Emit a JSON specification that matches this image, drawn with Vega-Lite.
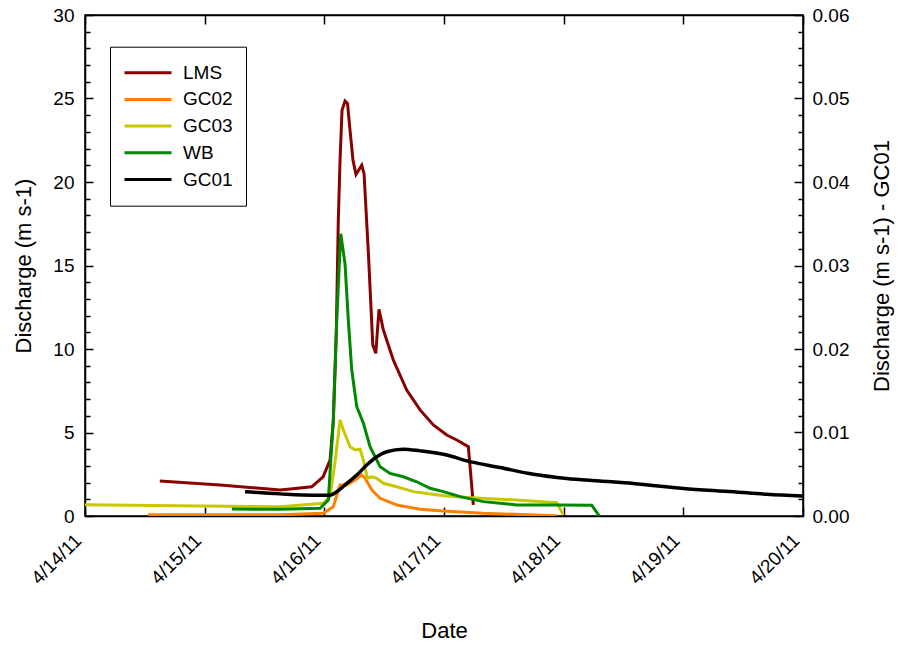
{
  "$schema": "https://vega.github.io/schema/vega-lite/v6.json",
  "width": 718,
  "height": 501,
  "autosize": "none",
  "padding": {"left": 85, "top": 15, "right": 95, "bottom": 129},
  "config": {
    "font": "Liberation Sans",
    "view": {"stroke": "black", "strokeWidth": 1.5},
    "axis": {
      "grid": false,
      "domainColor": "black",
      "domainWidth": 1.5,
      "tickColor": "black",
      "tickWidth": 1.5,
      "labelColor": "black",
      "labelFontSize": 19,
      "titleColor": "black",
      "titleFontSize": 22,
      "titleFontWeight": "normal"
    }
  },
  "datasets": {
    "flow": [
      {"s": "LMS", "t": "2011-04-14T15:00", "q": 2.1},
      {"s": "LMS", "t": "2011-04-15T03:05", "q": 1.85},
      {"s": "LMS", "t": "2011-04-15T15:07", "q": 1.56},
      {"s": "LMS", "t": "2011-04-15T18:08", "q": 1.65},
      {"s": "LMS", "t": "2011-04-15T21:28", "q": 1.75},
      {"s": "LMS", "t": "2011-04-15T23:45", "q": 2.35},
      {"s": "LMS", "t": "2011-04-16T01:09", "q": 3.35},
      {"s": "LMS", "t": "2011-04-16T01:48", "q": 5.7},
      {"s": "LMS", "t": "2011-04-16T02:24", "q": 11.0},
      {"s": "LMS", "t": "2011-04-16T02:48", "q": 17.7},
      {"s": "LMS", "t": "2011-04-16T03:09", "q": 21.3},
      {"s": "LMS", "t": "2011-04-16T03:33", "q": 24.3},
      {"s": "LMS", "t": "2011-04-16T04:09", "q": 24.85},
      {"s": "LMS", "t": "2011-04-16T04:39", "q": 24.7},
      {"s": "LMS", "t": "2011-04-16T05:09", "q": 23.1},
      {"s": "LMS", "t": "2011-04-16T05:45", "q": 21.3},
      {"s": "LMS", "t": "2011-04-16T06:21", "q": 20.45},
      {"s": "LMS", "t": "2011-04-16T07:30", "q": 21.0},
      {"s": "LMS", "t": "2011-04-16T07:58", "q": 20.5},
      {"s": "LMS", "t": "2011-04-16T08:50", "q": 15.75},
      {"s": "LMS", "t": "2011-04-16T09:19", "q": 12.75},
      {"s": "LMS", "t": "2011-04-16T09:43", "q": 10.24},
      {"s": "LMS", "t": "2011-04-16T10:19", "q": 9.74},
      {"s": "LMS", "t": "2011-04-16T10:58", "q": 12.38},
      {"s": "LMS", "t": "2011-04-16T11:50", "q": 11.14},
      {"s": "LMS", "t": "2011-04-16T13:50", "q": 9.34},
      {"s": "LMS", "t": "2011-04-16T16:31", "q": 7.54},
      {"s": "LMS", "t": "2011-04-16T19:12", "q": 6.35},
      {"s": "LMS", "t": "2011-04-16T21:52", "q": 5.45},
      {"s": "LMS", "t": "2011-04-17T00:33", "q": 4.85},
      {"s": "LMS", "t": "2011-04-17T02:34", "q": 4.55},
      {"s": "LMS", "t": "2011-04-17T04:53", "q": 4.15},
      {"s": "LMS", "t": "2011-04-17T05:53", "q": 0.66},
      {"s": "GC02", "t": "2011-04-14T12:38", "q": 0.08},
      {"s": "GC02", "t": "2011-04-15T15:07", "q": 0.07},
      {"s": "GC02", "t": "2011-04-15T23:48", "q": 0.16},
      {"s": "GC02", "t": "2011-04-16T01:48", "q": 0.56},
      {"s": "GC02", "t": "2011-04-16T03:09", "q": 1.86},
      {"s": "GC02", "t": "2011-04-16T04:30", "q": 1.86},
      {"s": "GC02", "t": "2011-04-16T06:10", "q": 2.16},
      {"s": "GC02", "t": "2011-04-16T07:30", "q": 2.46},
      {"s": "GC02", "t": "2011-04-16T08:10", "q": 2.26},
      {"s": "GC02", "t": "2011-04-16T09:31", "q": 1.56},
      {"s": "GC02", "t": "2011-04-16T11:11", "q": 1.06},
      {"s": "GC02", "t": "2011-04-16T14:31", "q": 0.66},
      {"s": "GC02", "t": "2011-04-16T19:12", "q": 0.4},
      {"s": "GC02", "t": "2011-04-16T23:53", "q": 0.3},
      {"s": "GC02", "t": "2011-04-17T07:50", "q": 0.16},
      {"s": "GC02", "t": "2011-04-17T22:37", "q": 0.02},
      {"s": "GC03", "t": "2011-04-14T00:00", "q": 0.68},
      {"s": "GC03", "t": "2011-04-14T23:04", "q": 0.6},
      {"s": "GC03", "t": "2011-04-15T15:07", "q": 0.56},
      {"s": "GC03", "t": "2011-04-15T23:48", "q": 0.76},
      {"s": "GC03", "t": "2011-04-16T01:09", "q": 1.16},
      {"s": "GC03", "t": "2011-04-16T02:12", "q": 3.35},
      {"s": "GC03", "t": "2011-04-16T03:09", "q": 5.75},
      {"s": "GC03", "t": "2011-04-16T03:49", "q": 5.15},
      {"s": "GC03", "t": "2011-04-16T05:09", "q": 4.15},
      {"s": "GC03", "t": "2011-04-16T06:10", "q": 3.95},
      {"s": "GC03", "t": "2011-04-16T07:10", "q": 4.0},
      {"s": "GC03", "t": "2011-04-16T07:50", "q": 3.35},
      {"s": "GC03", "t": "2011-04-16T08:38", "q": 2.26},
      {"s": "GC03", "t": "2011-04-16T09:31", "q": 2.35},
      {"s": "GC03", "t": "2011-04-16T10:31", "q": 2.26},
      {"s": "GC03", "t": "2011-04-16T11:50", "q": 1.96},
      {"s": "GC03", "t": "2011-04-16T14:31", "q": 1.75},
      {"s": "GC03", "t": "2011-04-16T17:52", "q": 1.46},
      {"s": "GC03", "t": "2011-04-16T21:12", "q": 1.32},
      {"s": "GC03", "t": "2011-04-17T00:33", "q": 1.2},
      {"s": "GC03", "t": "2011-04-17T07:14", "q": 1.06},
      {"s": "GC03", "t": "2011-04-17T15:15", "q": 0.95},
      {"s": "GC03", "t": "2011-04-17T22:37", "q": 0.8},
      {"s": "GC03", "t": "2011-04-17T23:57", "q": 0.06},
      {"s": "WB", "t": "2011-04-15T05:29", "q": 0.42},
      {"s": "WB", "t": "2011-04-15T15:07", "q": 0.4},
      {"s": "WB", "t": "2011-04-15T23:08", "q": 0.46},
      {"s": "WB", "t": "2011-04-16T00:48", "q": 0.96},
      {"s": "WB", "t": "2011-04-16T01:48", "q": 5.75},
      {"s": "WB", "t": "2011-04-16T02:29", "q": 11.7},
      {"s": "WB", "t": "2011-04-16T03:17", "q": 16.9},
      {"s": "WB", "t": "2011-04-16T04:09", "q": 15.1},
      {"s": "WB", "t": "2011-04-16T04:49", "q": 11.7},
      {"s": "WB", "t": "2011-04-16T05:30", "q": 8.74},
      {"s": "WB", "t": "2011-04-16T06:30", "q": 6.55},
      {"s": "WB", "t": "2011-04-16T07:50", "q": 5.55},
      {"s": "WB", "t": "2011-04-16T09:10", "q": 4.15},
      {"s": "WB", "t": "2011-04-16T11:11", "q": 2.95},
      {"s": "WB", "t": "2011-04-16T13:11", "q": 2.55},
      {"s": "WB", "t": "2011-04-16T15:51", "q": 2.35},
      {"s": "WB", "t": "2011-04-16T18:32", "q": 2.05},
      {"s": "WB", "t": "2011-04-16T21:12", "q": 1.66},
      {"s": "WB", "t": "2011-04-16T23:53", "q": 1.46},
      {"s": "WB", "t": "2011-04-17T03:13", "q": 1.16},
      {"s": "WB", "t": "2011-04-17T07:54", "q": 0.86},
      {"s": "WB", "t": "2011-04-17T14:36", "q": 0.66},
      {"s": "WB", "t": "2011-04-17T23:17", "q": 0.66},
      {"s": "WB", "t": "2011-04-18T05:38", "q": 0.64},
      {"s": "WB", "t": "2011-04-18T07:10", "q": 0.0},
      {"s": "GC01", "t": "2011-04-15T08:06", "q": 0.0029},
      {"s": "GC01", "t": "2011-04-15T15:07", "q": 0.00265},
      {"s": "GC01", "t": "2011-04-15T21:48", "q": 0.0025},
      {"s": "GC01", "t": "2011-04-16T01:09", "q": 0.0025},
      {"s": "GC01", "t": "2011-04-16T02:29", "q": 0.0029},
      {"s": "GC01", "t": "2011-04-16T04:30", "q": 0.0039},
      {"s": "GC01", "t": "2011-04-16T06:30", "q": 0.0049},
      {"s": "GC01", "t": "2011-04-16T08:30", "q": 0.0061},
      {"s": "GC01", "t": "2011-04-16T10:31", "q": 0.0071},
      {"s": "GC01", "t": "2011-04-16T12:31", "q": 0.0077},
      {"s": "GC01", "t": "2011-04-16T15:51", "q": 0.008},
      {"s": "GC01", "t": "2011-04-16T19:12", "q": 0.0078},
      {"s": "GC01", "t": "2011-04-17T00:33", "q": 0.0073},
      {"s": "GC01", "t": "2011-04-17T04:34", "q": 0.0066},
      {"s": "GC01", "t": "2011-04-17T11:15", "q": 0.0058},
      {"s": "GC01", "t": "2011-04-17T17:56", "q": 0.005},
      {"s": "GC01", "t": "2011-04-18T00:37", "q": 0.0045},
      {"s": "GC01", "t": "2011-04-18T07:18", "q": 0.0042},
      {"s": "GC01", "t": "2011-04-18T13:59", "q": 0.0039},
      {"s": "GC01", "t": "2011-04-19T00:00", "q": 0.0033},
      {"s": "GC01", "t": "2011-04-19T10:03", "q": 0.0029},
      {"s": "GC01", "t": "2011-04-19T16:45", "q": 0.0026},
      {"s": "GC01", "t": "2011-04-19T23:55", "q": 0.0024}
    ]
  },
  "data": {"name": "flow"},
  "layer": [
    {
      "transform": [{"filter": "datum.s !== 'GC01'"}],
      "mark": {"type": "line", "opacity": 0},
      "encoding": {
        "x": {"field": "t", "type": "temporal", "axis": null,
              "scale": {"domain": [{"year": 2011, "month": 4, "date": 14}, {"year": 2011, "month": 4, "date": 20}], "nice": false}},
        "y": {
          "field": "q", "type": "quantitative",
          "scale": {"domain": [0, 30], "nice": false},
          "axis": {
            "orient": "left",
            "values": [1,2,3,4,6,7,8,9,11,12,13,14,16,17,18,19,21,22,23,24,26,27,28,29],
            "labels": false,
            "domain": false,
            "title": null,
            "tickSize": -5
          }
        }
      }
    },
    {
      "transform": [{"filter": "datum.s === 'GC01'"}],
      "mark": {"type": "line", "opacity": 0},
      "encoding": {
        "x": {"field": "t", "type": "temporal", "axis": null},
        "y": {
          "field": "q", "type": "quantitative",
          "scale": {"domain": [0, 0.06], "nice": false},
          "axis": {
            "orient": "right",
            "values": [0.002,0.004,0.006,0.008,0.012,0.014,0.016,0.018,0.022,0.024,0.026,0.028,0.032,0.034,0.036,0.038,0.042,0.044,0.046,0.048,0.052,0.054,0.056,0.058],
            "labels": false,
            "domain": false,
            "title": null,
            "tickSize": -5
          }
        }
      }
    },
    {
      "transform": [{"filter": "datum.s !== 'GC01'"}],
      "mark": {"type": "line", "strokeWidth": 3, "clip": true},
      "encoding": {
        "x": {
          "field": "t", "type": "temporal", "title": "Date",
          "axis": {
            "orient": "bottom",
            "values": [{"year": 2011, "month": 4, "date": 14}, {"year": 2011, "month": 4, "date": 15}, {"year": 2011, "month": 4, "date": 16}, {"year": 2011, "month": 4, "date": 17}, {"year": 2011, "month": 4, "date": 18}, {"year": 2011, "month": 4, "date": 19}, {"year": 2011, "month": 4, "date": 20}],
            "format": "%-m/%-d/%y",
            "labelAngle": -45,
            "labelAlign": "right",
            "labelBaseline": "middle",
            "tickSize": -9,
            "labelPadding": 30,
            "labelOffset": -7,
            "titleX": 359,
            "titleY": 121,
            "titleAlign": "center",
            "titleBaseline": "alphabetic"
          }
        },
        "y": {
          "field": "q", "type": "quantitative", "title": "Discharge (m s-1)",
          "scale": {"domain": [0, 30], "nice": false},
          "axis": {
            "orient": "left",
            "values": [0, 5, 10, 15, 20, 25, 30],
            "format": "d",
            "tickSize": -8,
            "labelPadding": 19,
            "titleX": -62,
            "titleAngle": -90,
            "titleAlign": "center",
            "titleBaseline": "middle"
          }
        },
        "color": {
          "field": "s", "type": "nominal",
          "scale": {"domain": ["LMS", "GC02", "GC03", "WB", "GC01"], "range": ["#880000", "#FF8000", "#C8C800", "#008800", "#000000"]},
          "legend": {
            "title": null,
            "orient": "none",
            "legendX": 25,
            "legendY": 31.7,
            "direction": "vertical",
            "symbolType": "stroke",
            "symbolSize": 2209,
            "symbolStrokeWidth": 3,
            "labelFontSize": 19,
            "labelColor": "black",
            "labelOffset": 10,
            "clipHeight": 26,
            "rowPadding": 0.7,
            "padding": 13,
            "strokeColor": "black",
            "fillColor": "white"
          }
        }
      }
    },
    {
      "transform": [{"filter": "datum.s === 'GC01'"}],
      "mark": {"type": "line", "strokeWidth": 3.5, "clip": true, "interpolate": "monotone"},
      "encoding": {
        "x": {
          "field": "t", "type": "temporal",
          "axis": {
            "orient": "top",
            "values": [{"year": 2011, "month": 4, "date": 14}, {"year": 2011, "month": 4, "date": 15}, {"year": 2011, "month": 4, "date": 16}, {"year": 2011, "month": 4, "date": 17}, {"year": 2011, "month": 4, "date": 18}, {"year": 2011, "month": 4, "date": 19}, {"year": 2011, "month": 4, "date": 20}],
            "labels": false,
            "title": null,
            "tickSize": -9
          }
        },
        "y": {
          "field": "q", "type": "quantitative", "title": "Discharge (m s-1) - GC01",
          "scale": {"domain": [0, 0.06], "nice": false},
          "axis": {
            "orient": "right",
            "values": [0, 0.01, 0.02, 0.03, 0.04, 0.05, 0.06],
            "format": ".2f",
            "tickSize": -9,
            "labelPadding": 18,
            "titleX": 78,
            "titleAngle": -90,
            "titleAlign": "center",
            "titleBaseline": "middle"
          }
        },
        "color": {"field": "s", "type": "nominal"}
      }
    }
  ],
  "resolve": {"scale": {"y": "independent"}, "axis": {"x": "independent", "y": "independent"}}
}
